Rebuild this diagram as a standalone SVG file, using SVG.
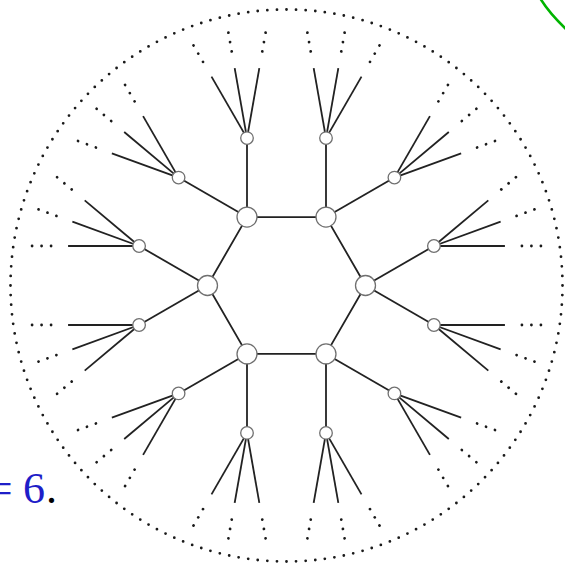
<svg xmlns="http://www.w3.org/2000/svg" width="565" height="566" viewBox="0 0 565 566">
<style>
.e{stroke:#222;stroke-width:1.8;fill:none}
.d{stroke:#1a1a1a;stroke-width:2.8;stroke-linecap:round;stroke-dasharray:0 9.5;fill:none}
.n{fill:#fff;stroke:#707070;stroke-width:1.3}
.t{font-family:"Liberation Serif","DejaVu Serif",serif;font-size:44px;fill:#1e1ec8}
</style>
<defs>
<g id="fan">
<line class="e" x1="0" y1="0" x2="71" y2="0"/>
<line class="e" x1="0" y1="0" x2="71" y2="0" transform="rotate(-20)"/>
<line class="e" x1="0" y1="0" x2="71" y2="0" transform="rotate(20)"/>
<line class="d" x1="88" y1="0" x2="108" y2="0"/>
<line class="d" x1="88" y1="0" x2="108" y2="0" transform="rotate(-20)"/>
<line class="d" x1="88" y1="0" x2="108" y2="0" transform="rotate(20)"/>
</g>
</defs>
<rect width="565" height="566" fill="#fff"/>
<circle cx="286.5" cy="285.5" r="276" pathLength="180" class="d" style="stroke-dasharray:0 1"/>
<g id="connectors">
<polygon class="e" points="365.5,285.5 326,217.08 247,217.08 207.5,285.5 247,353.92 326,353.92"/>
<line class="e" x1="247" y1="217.08" x2="247" y2="138.08"/>
<line class="e" x1="247" y1="217.08" x2="178.58" y2="177.58"/>
<line class="e" x1="326" y1="217.08" x2="326" y2="138.08"/>
<line class="e" x1="326" y1="217.08" x2="394.42" y2="177.58"/>
<line class="e" x1="365.5" y1="285.5" x2="433.92" y2="246"/>
<line class="e" x1="365.5" y1="285.5" x2="433.92" y2="325"/>
<line class="e" x1="207.5" y1="285.5" x2="139.08" y2="246"/>
<line class="e" x1="207.5" y1="285.5" x2="139.08" y2="325"/>
<line class="e" x1="247" y1="353.92" x2="178.58" y2="393.42"/>
<line class="e" x1="247" y1="353.92" x2="247" y2="432.92"/>
<line class="e" x1="326" y1="353.92" x2="326" y2="432.92"/>
<line class="e" x1="326" y1="353.92" x2="394.42" y2="393.42"/>
<use href="#fan" transform="translate(433.92,325) rotate(20)"/>
<use href="#fan" transform="translate(433.92,246) rotate(-20)"/>
<use href="#fan" transform="translate(394.42,177.58) rotate(-40)"/>
<use href="#fan" transform="translate(326,138.08) rotate(-80)"/>
<use href="#fan" transform="translate(247,138.08) rotate(-100)"/>
<use href="#fan" transform="translate(178.58,177.58) rotate(-140)"/>
<use href="#fan" transform="translate(139.08,246) rotate(-160)"/>
<use href="#fan" transform="translate(139.08,325) rotate(-200)"/>
<use href="#fan" transform="translate(178.58,393.42) rotate(-220)"/>
<use href="#fan" transform="translate(247,432.92) rotate(-260)"/>
<use href="#fan" transform="translate(326,432.92) rotate(-280)"/>
<use href="#fan" transform="translate(394.42,393.42) rotate(-320)"/>
</g>
<g id="h0"><circle class="n" cx="365.5" cy="285.5" r="10"/></g>
<g id="h60"><circle class="n" cx="326" cy="217.08" r="10"/></g>
<g id="h120"><circle class="n" cx="247" cy="217.08" r="10"/></g>
<g id="h180"><circle class="n" cx="207.5" cy="285.5" r="10"/></g>
<g id="h240"><circle class="n" cx="247" cy="353.92" r="10"/></g>
<g id="h300"><circle class="n" cx="326" cy="353.92" r="10"/></g>
<g id="c15"><circle class="n" cx="433.92" cy="246" r="6.3"/></g>
<g id="c345"><circle class="n" cx="433.92" cy="325" r="6.3"/></g>
<g id="c45"><circle class="n" cx="394.42" cy="177.58" r="6.3"/></g>
<g id="c75"><circle class="n" cx="326" cy="138.08" r="6.3"/></g>
<g id="c105"><circle class="n" cx="247" cy="138.08" r="6.3"/></g>
<g id="c135"><circle class="n" cx="178.58" cy="177.58" r="6.3"/></g>
<g id="c165"><circle class="n" cx="139.08" cy="246" r="6.3"/></g>
<g id="c195"><circle class="n" cx="139.08" cy="325" r="6.3"/></g>
<g id="c225"><circle class="n" cx="178.58" cy="393.42" r="6.3"/></g>
<g id="c255"><circle class="n" cx="247" cy="432.92" r="6.3"/></g>
<g id="c285"><circle class="n" cx="326" cy="432.92" r="6.3"/></g>
<g id="c315"><circle class="n" cx="394.42" cy="393.42" r="6.3"/></g>
<path d="M540,-2 Q549,13 567,30" stroke="#00b400" stroke-width="2.6" fill="none"/>
<text class="t" x="71" y="-10.5">p</text>
<text class="t" x="-12.3" y="503">=</text>
<text class="t" x="23" y="503">6</text>
<text class="t" x="46" y="503" style="fill:#000">.</text>
</svg>
